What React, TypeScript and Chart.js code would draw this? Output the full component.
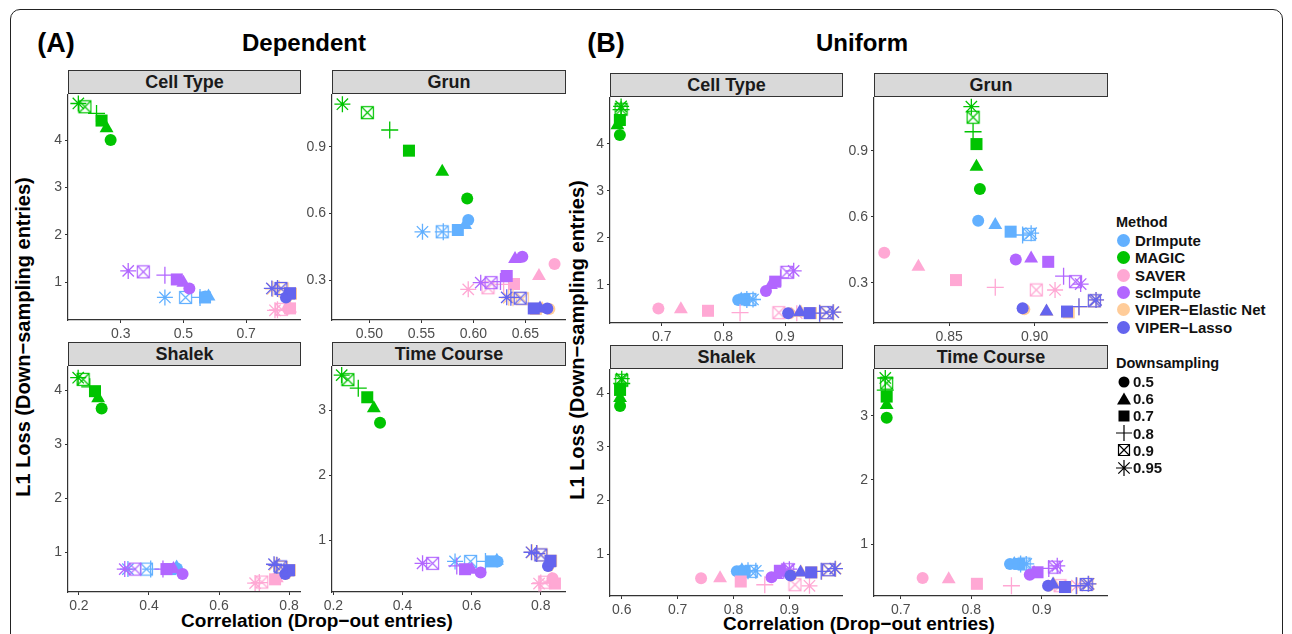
import React, { useEffect, useRef } from "react";
import { Chart, registerables } from "chart.js";
Chart.register(...registerables);

// ---------- data ----------
const METHODS = ["DrImpute", "MAGIC", "SAVER", "scImpute", "VIPER\u2212Elastic Net", "VIPER\u2212Lasso"];
const METHOD_COLORS = ["#62B0FF", "#00C400", "#FFA8D4", "#B266FF", "#FFCC99", "#6464EE"];
const DOWNSAMPLING = ["0.5", "0.6", "0.7", "0.8", "0.9", "0.95"];

// rows: methods (order as METHODS); columns: downsampling 0.5 .. 0.95
const DEP_CELLTYPE_X = [
  [0.57, 0.58, 0.569, 0.553, 0.507, 0.441],
  [0.268, 0.255, 0.239, 0.223, 0.186, 0.165],
  [0.835, 0.84, 0.84, 0.8, 0.813, 0.792],
  [0.519, 0.5, 0.479, 0.441, 0.372, 0.324],
  [0.83, 0.838, 0.843, 0.805, 0.815, 0.785],
  [0.827, 0.835, 0.84, 0.8, 0.811, 0.782],
];
const DEP_CELLTYPE_Y = [
  [0.7, 0.7, 0.68, 0.68, 0.68, 0.68],
  [4.0, 4.25, 4.41, 4.56, 4.7, 4.77],
  [0.45, 0.45, 0.45, 0.42, 0.43, 0.41],
  [0.87, 0.99, 1.06, 1.15, 1.22, 1.24],
  [0.69, 0.73, 0.76, 0.86, 0.86, 0.86],
  [0.68, 0.72, 0.77, 0.87, 0.87, 0.87],
];
const DEP_GRUN_X = [
  [0.595, 0.592, 0.585, 0.571, 0.57, 0.551],
  [0.594, 0.57, 0.538, 0.5195, 0.498, 0.474],
  [0.678, 0.663, 0.639, 0.629, 0.614, 0.595],
  [0.647, 0.64, 0.632, 0.626, 0.617, 0.607],
  [0.673, 0.666, 0.66, 0.638, 0.647, 0.634],
  [0.671, 0.664, 0.658, 0.636, 0.645, 0.632],
];
const DEP_GRUN_Y = [
  [0.57, 0.547, 0.525, 0.517, 0.517, 0.517],
  [0.667, 0.787, 0.882, 0.975, 1.053, 1.091],
  [0.372, 0.318, 0.282, 0.28, 0.265, 0.258],
  [0.405, 0.394, 0.318, 0.293, 0.288, 0.288],
  [0.17, 0.17, 0.17, 0.22, 0.216, 0.22],
  [0.172, 0.172, 0.172, 0.222, 0.218, 0.222],
];
const DEP_SHALEK_X = [
  [0.48, 0.479, 0.46, 0.405, 0.393, 0.34],
  [0.265, 0.255, 0.246, 0.231, 0.212, 0.198],
  [0.763, 0.765, 0.76, 0.715, 0.722, 0.703],
  [0.496, 0.47, 0.45, 0.44, 0.36, 0.331],
  [0.791, 0.797, 0.802, 0.767, 0.778, 0.759],
  [0.789, 0.795, 0.8, 0.765, 0.776, 0.757],
];
const DEP_SHALEK_Y = [
  [0.7, 0.72, 0.69, 0.69, 0.69, 0.69],
  [3.67, 3.86, 3.99, 4.07, 4.21, 4.24],
  [0.52, 0.52, 0.5, 0.44, 0.45, 0.43],
  [0.6, 0.69, 0.69, 0.69, 0.69, 0.69],
  [0.6, 0.63, 0.67, 0.75, 0.72, 0.77],
  [0.6, 0.63, 0.67, 0.76, 0.73, 0.78],
];
const DEP_TIME_X = [
  [0.675, 0.673, 0.658, 0.64, 0.597, 0.552],
  [0.335, 0.317, 0.298, 0.272, 0.242, 0.224],
  [0.834, 0.832, 0.841, 0.8, 0.812, 0.795],
  [0.626, 0.6, 0.581, 0.557, 0.487, 0.458],
  [0.823, 0.827, 0.83, 0.79, 0.802, 0.775],
  [0.821, 0.825, 0.828, 0.788, 0.8, 0.773],
];
const DEP_TIME_Y = [
  [0.68, 0.69, 0.68, 0.68, 0.68, 0.68],
  [2.81, 3.03, 3.2, 3.34, 3.47, 3.54],
  [0.42, 0.4, 0.34, 0.35, 0.36, 0.34],
  [0.51, 0.55, 0.56, 0.61, 0.65, 0.65],
  [0.61, 0.66, 0.69, 0.8, 0.78, 0.82],
  [0.61, 0.65, 0.69, 0.8, 0.78, 0.82],
];
const UNI_CELLTYPE_X = [
  [0.824, 0.829, 0.834, 0.838, 0.843, 0.848],
  [0.632, 0.628, 0.632, 0.634, 0.634, 0.634],
  [0.6945, 0.731, 0.775, 0.827, 0.89, 0.919],
  [0.869, 0.877, 0.884, 0.893, 0.903, 0.914],
  [0.907, 0.926, 0.942, 0.957, 0.968, 0.979],
  [0.905, 0.924, 0.94, 0.956, 0.967, 0.978],
];
const UNI_CELLTYPE_Y = [
  [0.68, 0.69, 0.69, 0.69, 0.69, 0.69],
  [4.19, 4.4, 4.51, 4.73, 4.74, 4.8],
  [0.5, 0.48, 0.45, 0.41, 0.41, 0.4],
  [0.87, 1.0, 1.07, 1.15, 1.27, 1.3],
  [0.4, 0.41, 0.4, 0.4, 0.41, 0.42],
  [0.4, 0.42, 0.4, 0.4, 0.41, 0.42],
];
const UNI_GRUN_X = [
  [0.867, 0.877, 0.886, 0.893, 0.897, 0.898],
  [0.868, 0.866, 0.866, 0.864, 0.864, 0.863],
  [0.812, 0.832, 0.854, 0.877, 0.901, 0.912],
  [0.889, 0.898, 0.908, 0.917, 0.924, 0.927],
  [0.894, 0.907, 0.92, 0.926, 0.935, 0.936],
  [0.893, 0.907, 0.919, 0.926, 0.935, 0.936],
];
const UNI_GRUN_Y = [
  [0.582, 0.562, 0.532, 0.517, 0.52, 0.525],
  [0.726, 0.827, 0.93, 0.986, 1.052, 1.1],
  [0.436, 0.373, 0.312, 0.279, 0.267, 0.267],
  [0.406, 0.41, 0.395, 0.33, 0.305, 0.294],
  [0.18, 0.168, 0.165, 0.19, 0.217, 0.221],
  [0.184, 0.169, 0.169, 0.191, 0.218, 0.222],
];
const UNI_SHALEK_X = [
  [0.806, 0.815, 0.82, 0.826, 0.832, 0.84],
  [0.597, 0.597, 0.597, 0.6, 0.6, 0.6],
  [0.742, 0.776, 0.813, 0.856, 0.91, 0.936],
  [0.868, 0.877, 0.883, 0.89, 0.897, 0.9],
  [0.903, 0.921, 0.94, 0.958, 0.971, 0.983],
  [0.902, 0.92, 0.939, 0.957, 0.97, 0.982],
];
const UNI_SHALEK_Y = [
  [0.68, 0.7, 0.68, 0.69, 0.68, 0.69],
  [3.76, 3.91, 4.06, 4.18, 4.24, 4.27],
  [0.55, 0.55, 0.49, 0.43, 0.43, 0.41],
  [0.57, 0.61, 0.69, 0.7, 0.71, 0.72],
  [0.6, 0.66, 0.66, 0.68, 0.71, 0.73],
  [0.6, 0.66, 0.66, 0.68, 0.71, 0.73],
];
const UNI_TIME_X = [
  [0.855, 0.861, 0.868, 0.87, 0.875, 0.878],
  [0.68, 0.68, 0.68, 0.678, 0.68, 0.678],
  [0.731, 0.768, 0.808, 0.857, 0.926, 0.95],
  [0.883, 0.889, 0.894, 0.91, 0.918, 0.922],
  [0.91, 0.917, 0.934, 0.95, 0.964, 0.967],
  [0.909, 0.916, 0.933, 0.949, 0.963, 0.966],
];
const UNI_TIME_Y = [
  [0.69, 0.69, 0.69, 0.69, 0.69, 0.69],
  [2.97, 3.17, 3.3, 3.4, 3.51, 3.59],
  [0.47, 0.45, 0.38, 0.35, 0.35, 0.35],
  [0.52, 0.55, 0.56, 0.62, 0.64, 0.66],
  [0.35, 0.37, 0.33, 0.35, 0.37, 0.38],
  [0.35, 0.37, 0.33, 0.35, 0.37, 0.38],
];

// axis ticks
const TICKS_1_4 = [1, 2, 3, 4];
const TICKS_1_3 = [1, 2, 3];
const TICKS_GRUN_Y = [0.3, 0.6, 0.9];
const TICKS_DEP_CT_X = [0.3, 0.5, 0.7];
const TICKS_DEP_GRUN_X = [0.5, 0.55, 0.6, 0.65];
const TICKS_02_08 = [0.2, 0.4, 0.6, 0.8];
const TICKS_07_09 = [0.7, 0.8, 0.9];
const TICKS_UNI_GRUN_X = [0.85, 0.9];
const TICKS_06_09 = [0.6, 0.7, 0.8, 0.9];

// ---------- layout ----------
const FONT = "'Liberation Sans', Arial, Helvetica, sans-serif";
const AXW = 44;
const AXH = 26;

type PanelCfg = {
  title: string; left: number; top: number; w: number; h: number;
  xs: number[][]; ys: number[][];
  xMin: number; xMax: number; yMin: number; yMax: number;
  xTicks: number[]; yTicks: number[]; xDec: number; yDec: number;
};

const PANELS: PanelCfg[] = [
  { title: "Cell Type", left: 68, top: 94, w: 233, h: 226, xs: DEP_CELLTYPE_X, ys: DEP_CELLTYPE_Y,
    xMin: 0.132, xMax: 0.875, yMin: 0.205, yMax: 4.97, xTicks: TICKS_DEP_CT_X, yTicks: TICKS_1_4, xDec: 1, yDec: 0 },
  { title: "Grun", left: 332, top: 94, w: 234, h: 226, xs: DEP_GRUN_X, ys: DEP_GRUN_Y,
    xMin: 0.464, xMax: 0.689, yMin: 0.12, yMax: 1.137, xTicks: TICKS_DEP_GRUN_X, yTicks: TICKS_GRUN_Y, xDec: 2, yDec: 1 },
  { title: "Shalek", left: 68, top: 366, w: 233, h: 226, xs: DEP_SHALEK_X, ys: DEP_SHALEK_Y,
    xMin: 0.169, xMax: 0.834, yMin: 0.265, yMax: 4.457, xTicks: TICKS_02_08, yTicks: TICKS_1_4, xDec: 1, yDec: 0 },
  { title: "Time Course", left: 332, top: 366, w: 234, h: 226, xs: DEP_TIME_X, ys: DEP_TIME_Y,
    xMin: 0.196, xMax: 0.873, yMin: 0.21, yMax: 3.68, xTicks: TICKS_02_08, yTicks: TICKS_1_3, xDec: 1, yDec: 0 },
  { title: "Cell Type", left: 610, top: 97, w: 233, h: 226, xs: UNI_CELLTYPE_X, ys: UNI_CELLTYPE_Y,
    xMin: 0.616, xMax: 0.994, yMin: 0.19, yMax: 5.0, xTicks: TICKS_07_09, yTicks: TICKS_1_4, xDec: 1, yDec: 0 },
  { title: "Grun", left: 874, top: 97, w: 234, h: 226, xs: UNI_GRUN_X, ys: UNI_GRUN_Y,
    xMin: 0.806, xMax: 0.943, yMin: 0.117, yMax: 1.144, xTicks: TICKS_UNI_GRUN_X, yTicks: TICKS_GRUN_Y, xDec: 2, yDec: 1 },
  { title: "Shalek", left: 610, top: 369, w: 233, h: 227, xs: UNI_SHALEK_X, ys: UNI_SHALEK_Y,
    xMin: 0.579, xMax: 0.996, yMin: 0.22, yMax: 4.45, xTicks: TICKS_06_09, yTicks: TICKS_1_4, xDec: 1, yDec: 0 },
  { title: "Time Course", left: 874, top: 369, w: 234, h: 227, xs: UNI_TIME_X, ys: UNI_TIME_Y,
    xMin: 0.662, xMax: 0.994, yMin: 0.19, yMax: 3.73, xTicks: TICKS_07_09, yTicks: TICKS_1_3, xDec: 1, yDec: 0 },
];

// ---------- point styles ----------
const styleCache: Record<string, HTMLCanvasElement> = {};
function boxCross(color: string): HTMLCanvasElement {
  if (styleCache[color]) return styleCache[color];
  const s = 13;
  const c = document.createElement("canvas");
  c.width = s + 2; c.height = s + 2;
  const g = c.getContext("2d")!;
  g.strokeStyle = color; g.lineWidth = 1.2;
  g.strokeRect(1.5, 1.5, s - 1, s - 1);
  g.beginPath();
  g.moveTo(1.5, 1.5); g.lineTo(s + 0.5, s + 0.5);
  g.moveTo(s + 0.5, 1.5); g.lineTo(1.5, s + 0.5);
  g.stroke();
  styleCache[color] = c;
  return c;
}
const SHAPE_NAMES = ["circle", "triangle", "rect", "cross", "boxcross", "star"];
const SHAPE_RADII = [6, 8, 8.5, 8.5, 7.5, 8];
function pointStyleFor(shape: string, color: string): any {
  return shape === "boxcross" ? boxCross(color) : shape;
}

function Panel({ cfg }: { cfg: PanelCfg }) {
  const ref = useRef<HTMLCanvasElement>(null);
  useEffect(() => {
    const datasets: any[] = [];
    // index 0 is drawn on top -> push in reverse method order
    for (let m = METHODS.length - 1; m >= 0; m--) {
      const color = METHOD_COLORS[m];
      datasets.push({
        label: METHODS[m],
        data: cfg.xs[m].map((x, i) => ({ x, y: cfg.ys[m][i] })),
        pointStyle: SHAPE_NAMES.map((s) => pointStyleFor(s, color)),
        pointRadius: SHAPE_RADII,
        backgroundColor: color,
        borderColor: color,
        borderWidth: SHAPE_NAMES.map((s) => (s === "cross" || s === "star" ? 1.3 : 0)),
        clip: false,
      });
    }
    const fmt = (dec: number) => (v: any) => Number(v).toFixed(dec);
    const common = (ticks: number[], dec: number) => ({
      type: "linear" as const,
      afterBuildTicks: (ax: any) => { ax.ticks = ticks.map((v) => ({ value: v })); },
      ticks: { callback: fmt(dec), color: "#4D4D4D", font: { family: FONT, size: 14 }, padding: 3, autoSkip: false, maxRotation: 0 },
      grid: { display: true, drawOnChartArea: false, drawTicks: true, tickLength: 3, color: "#333333", lineWidth: 1 },
      border: { display: true, color: "#333333", width: 1.2 },
    });
    const chart = new Chart(ref.current!, {
      type: "scatter",
      data: { datasets },
      options: {
        animation: false,
        responsive: false,
        maintainAspectRatio: false,
        events: [],
        layout: { padding: 0, autoPadding: false },
        plugins: { legend: { display: false }, tooltip: { enabled: false } },
        scales: {
          x: { ...common(cfg.xTicks, cfg.xDec), min: cfg.xMin, max: cfg.xMax,
            afterFit: (ax: any) => { ax.height = AXH; ax.paddingLeft = 0; ax.paddingRight = 0; } },
          y: { ...common(cfg.yTicks, cfg.yDec), min: cfg.yMin, max: cfg.yMax,
            afterFit: (ax: any) => { ax.width = AXW; ax.paddingTop = 0; ax.paddingBottom = 0; } },
        },
      } as any,
    });
    return () => chart.destroy();
  }, [cfg]);
  return (
    <>
      <div style={{ position: "absolute", left: cfg.left, top: cfg.top - 24, width: cfg.w - 2, height: 22,
        background: "#D9D9D9", border: "1px solid #333", display: "flex", alignItems: "center", justifyContent: "center",
        fontFamily: FONT, fontWeight: "bold", fontSize: 18, color: "#1A1A1A" }}>{cfg.title}</div>
      <canvas ref={ref} width={cfg.w + AXW} height={cfg.h + AXH}
        style={{ position: "absolute", left: cfg.left - AXW, top: cfg.top, width: cfg.w + AXW, height: cfg.h + AXH }} />
    </>
  );
}

function ShapeIcon({ shape }: { shape: string }) {
  const s = 16;
  let el: any = null;
  if (shape === "circle") el = <circle cx={8} cy={8} r={5.5} fill="#000" />;
  else if (shape === "triangle") el = <polygon points="8,1.5 15,13.5 1,13.5" fill="#000" />;
  else if (shape === "rect") el = <rect x={2.5} y={2.5} width={11} height={11} fill="#000" />;
  else if (shape === "cross") el = <path d="M8 0 V16 M0 8 H16" stroke="#000" strokeWidth={1.2} />;
  else if (shape === "boxcross") el = <path d="M2.5 2.5 H13.5 V13.5 H2.5 Z M2.5 2.5 L13.5 13.5 M13.5 2.5 L2.5 13.5" stroke="#000" strokeWidth={1.2} fill="none" />;
  else el = <path d="M8 0 V16 M0 8 H16 M2.3 2.3 L13.7 13.7 M13.7 2.3 L2.3 13.7" stroke="#000" strokeWidth={1.2} />;
  return <svg width={s} height={s} style={{ display: "block" }}>{el}</svg>;
}

function Legend() {
  const base: any = { position: "absolute", fontFamily: FONT, fontWeight: "bold", color: "#111", whiteSpace: "nowrap" };
  return (
    <>
      <div style={{ ...base, left: 1116, top: 214, fontSize: 14.5 }}>Method</div>
      {METHODS.map((m, i) => (
        <div key={m} style={{ ...base, left: 1117, top: 232 + i * 17.3, fontSize: 15, display: "flex", alignItems: "center", height: 17 }}>
          <span style={{ display: "inline-block", width: 13, height: 13, borderRadius: 7, background: METHOD_COLORS[i], marginRight: 5 }} />
          {m}
        </div>
      ))}
      <div style={{ ...base, left: 1116, top: 355, fontSize: 14.5 }}>Downsampling</div>
      {DOWNSAMPLING.map((d, i) => (
        <div key={d} style={{ ...base, left: 1116, top: 373 + i * 17.2, fontSize: 15, display: "flex", alignItems: "center", height: 17 }}>
          <span style={{ marginRight: 1 }}><ShapeIcon shape={SHAPE_NAMES[i]} /></span>
          {d}
        </div>
      ))}
    </>
  );
}

export default function App() {
  const txt: any = { position: "absolute", fontFamily: FONT, fontWeight: "bold", color: "#000", whiteSpace: "nowrap" };
  return (
    <div style={{ position: "absolute", left: 0, top: 0, width: 1292, height: 634, overflow: "hidden", background: "#fff" }}>
      <div style={{ position: "absolute", left: 10, top: 9, width: 1271, height: 660, border: "1.5px solid #222", borderRadius: 10 }} />
      <div style={{ ...txt, left: 56, top: 43, fontSize: 27, transform: "translate(-50%, -50%)" }}>(A)</div>
      <div style={{ ...txt, left: 304, top: 43, fontSize: 24, transform: "translate(-50%, -50%)" }}>Dependent</div>
      <div style={{ ...txt, left: 606, top: 43, fontSize: 27, transform: "translate(-50%, -50%)" }}>(B)</div>
      <div style={{ ...txt, left: 862, top: 43, fontSize: 24, transform: "translate(-50%, -50%)" }}>Uniform</div>

      <div style={{ ...txt, left: 23, top: 337, fontSize: 20, transform: "translate(-50%, -50%) rotate(-90deg)" }}>L1 Loss (Down{"\u2212"}sampling entries)</div>
      <div style={{ ...txt, left: 577, top: 340, fontSize: 20, transform: "translate(-50%, -50%) rotate(-90deg)" }}>L1 Loss (Down{"\u2212"}sampling entries)</div>
      <div style={{ ...txt, left: 317, top: 621, fontSize: 19, transform: "translate(-50%, -50%)" }}>Correlation (Drop{"\u2212"}out entries)</div>
      <div style={{ ...txt, left: 859, top: 624, fontSize: 19, transform: "translate(-50%, -50%)" }}>Correlation (Drop{"\u2212"}out entries)</div>

      {PANELS.map((p, i) => <Panel key={i} cfg={p} />)}
      <Legend />
    </div>
  );
}
